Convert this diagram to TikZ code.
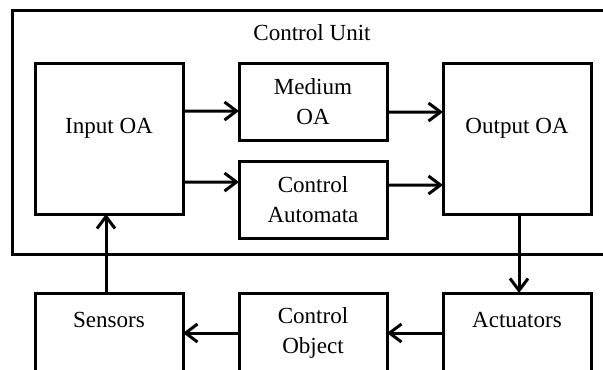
\documentclass[tikz,border=0pt]{standalone}
\usepackage{fontspec}
\setmainfont{Liberation Serif}
\usetikzlibrary{arrows.meta, positioning}

\begin{document}
\begin{tikzpicture}[
    node distance=0.525cm and 1.4cm,
    box/.style={draw, line width=0.075cm, outer sep=0pt, minimum width=3.7cm, align=center, font=\fontsize{16.4}{21.3}\selectfont},
    tallbox/.style={box, minimum height=3.775cm},
    smallbox/.style={box, minimum height=1.925cm},
    lowbox/.style={box, minimum height=2cm},
    arrow/.style={-{Straight Barb[length=0.3cm, width=0.45cm]}, line width=0.075cm}
]
    \useasboundingbox (0,0) rectangle (15.075,-9.225);
    \clip (0,0) rectangle (15.075,-9.225);
    \fill[white] (0,0) rectangle (15.075,-9.225);

    % control unit frame
    \node[draw, line width=0.075cm, outer sep=0pt, minimum width=15.2cm, minimum height=6.0875cm, anchor=north west] (cu) at (0.3125,-0.2625) {};
    \node[font=\fontsize{16.4}{21.3}\selectfont] (cutitle) at (7.8,-0.825) {Control Unit};

    \node[tallbox, anchor=north west] (in) at (0.875,-1.575) {Input OA\\[-0.1cm]\mbox{}};
    \node[smallbox, right=of in.north east, anchor=north west] (med) {Medium\\OA};
    \node[smallbox, below=of med] (ca) {Control\\Automata};
    \node[tallbox, right=of med.north east, anchor=north west] (out) {Output OA\\[-0.1cm]\mbox{}};

    % plant side
    \node[lowbox, below=1.975cm of in] (sen) {Sensors\\[-0.1cm]\mbox{}};
    \node[lowbox, right=of sen] (co) {Control\\Object};
    \node[lowbox, right=of co] (act) {Actuators\\[-0.1cm]\mbox{}};

    \draw[arrow] ([yshift=0.6875cm]in.east) -- ([yshift=-0.2375cm]med.west);
    \draw[arrow] ([yshift=-1.0875cm]in.east) -- ([yshift=0.4375cm]ca.west);
    \draw[arrow] ([yshift=-0.2625cm]med.east) -- ([yshift=0.6625cm]out.west);
    \draw[arrow] ([yshift=0.3625cm]ca.east) -- ([yshift=-1.1625cm]out.west);
    \draw[arrow] ([xshift=0.05cm]out.south) -- ([xshift=0.05cm]act.north);
    \draw[arrow] (act) -- (co);
    \draw[arrow] (co) -- (sen);
    \draw[arrow] ([xshift=-0.075cm]sen.north) -- ([xshift=-0.075cm]in.south);
\end{tikzpicture}
\end{document}
